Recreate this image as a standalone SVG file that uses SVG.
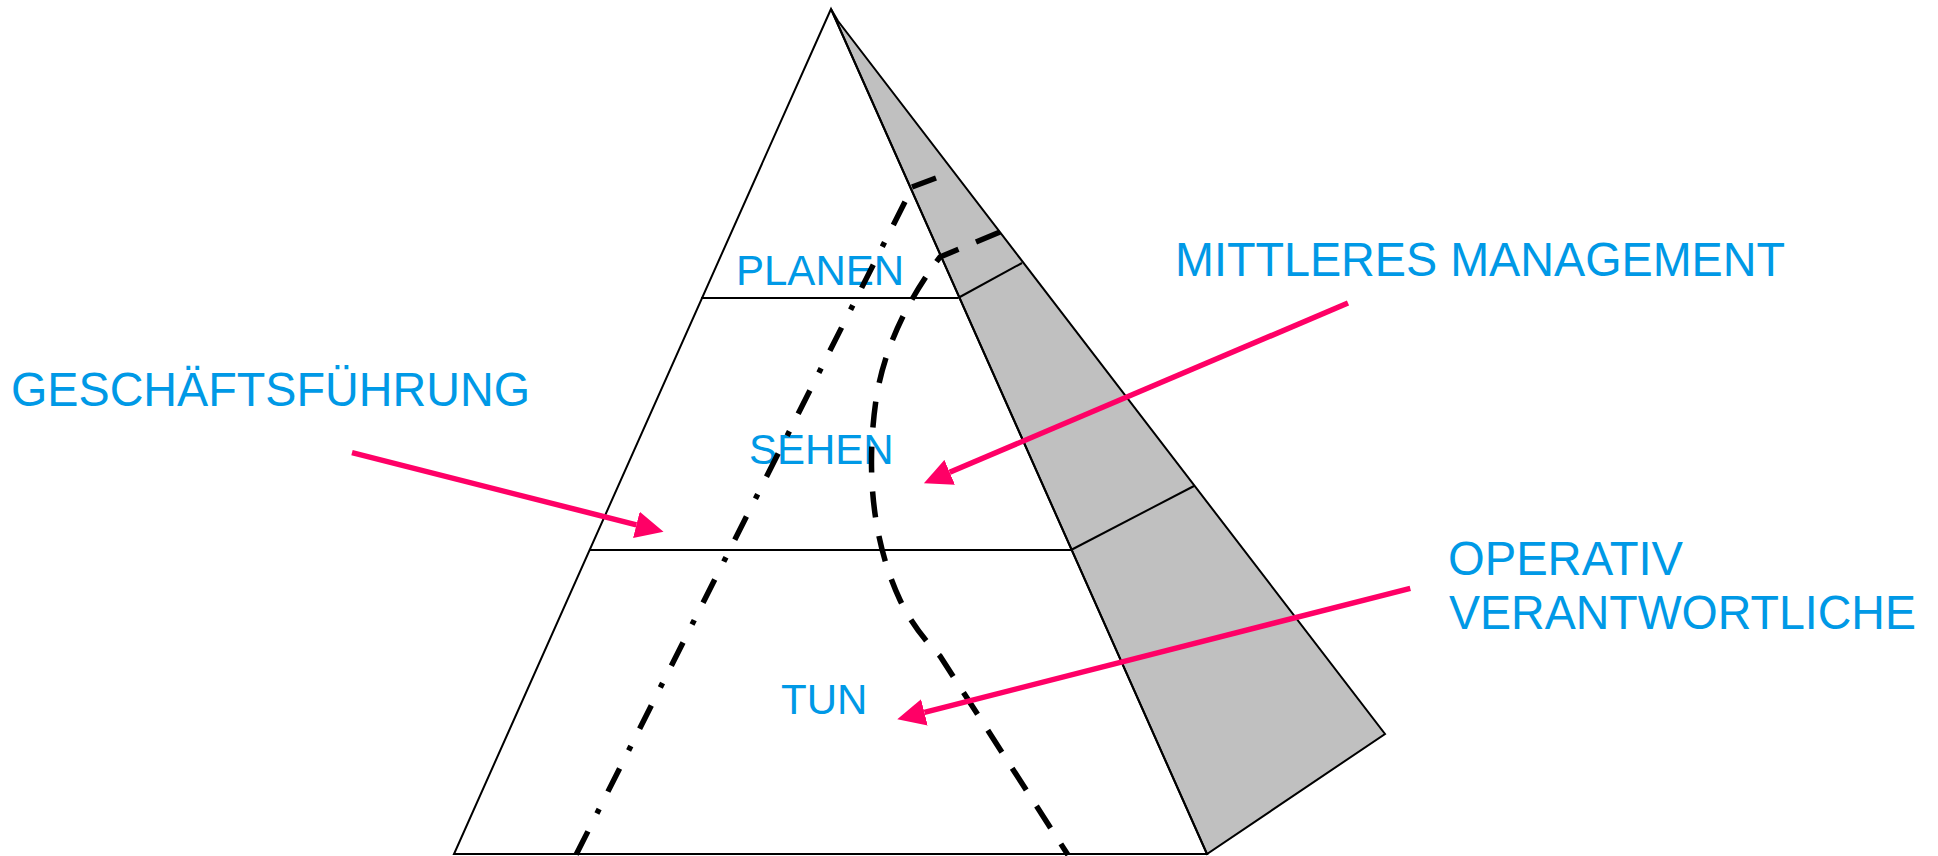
<svg xmlns="http://www.w3.org/2000/svg" width="1938" height="856" viewBox="0 0 1938 856">
<style>
.edge{fill:none;stroke:#000;stroke-width:2;stroke-linejoin:miter}
.back{fill:#C0C0C0;stroke:#000;stroke-width:2;stroke-linejoin:miter}
.lbl{font-family:"Liberation Sans",Arial,sans-serif;fill:#0099E6}
.mid{font-size:42px}
.big{font-size:48px}
.dashdot{fill:none;stroke:#000;stroke-width:5.5;stroke-dasharray:26 19.5 5 20}
.dashed{fill:none;stroke:#000;stroke-width:5.5;stroke-dasharray:26 19}
.solidk{fill:none;stroke:#000;stroke-width:5.5}
.arrow{fill:none;stroke:#FF0066;stroke-width:5.5;marker-end:url(#head)}
</style>
<defs>
<marker id="head" markerUnits="userSpaceOnUse" viewBox="0 0 28 27" markerWidth="28" markerHeight="27" refX="0" refY="13.5" orient="auto">
<path d="M0,0 L28,13.5 L0,27 Z" fill="#FF0066"/>
</marker>
</defs>
<rect width="1938" height="856" fill="#fff"/>
<g id="pyramid">
<polygon class="back" points="831,9 838,21 1385,734 1207,854"/>
<polygon class="edge" points="831,9 454,854 1207,854"/>
<line class="edge" x1="958" y1="298" x2="1022" y2="263"/>
<line class="edge" x1="1071" y1="550" x2="1194" y2="486"/>
</g>
<g id="layer-planen">
<line class="edge" x1="701" y1="298" x2="958" y2="298"/>
<text class="lbl mid" x="736" y="285">PLANEN</text>
</g>
<g id="layer-sehen">
<line class="edge" x1="590" y1="550" x2="1071" y2="550"/>
<text class="lbl mid" x="749" y="464">SEHEN</text>
</g>
<g id="layer-tun">
<text class="lbl mid" x="781" y="714">TUN</text>
</g>
<g id="boundaries">
<path class="solidk" d="M936,178 L912,187"/>
<path class="dashdot" d="M905,201.7 L576,855"/>
<path class="dashed" d="M1000,232 L940,257 C915,290 885,340 876,400 C866,470 872,540 900,600 C912,625 925,640 940,656 L1068,855"/>
</g>
<g id="label-geschaeftsfuehrung">
<text class="lbl big" x="11" y="406" textLength="519" lengthAdjust="spacingAndGlyphs">GESCHÄFTSFÜHRUNG</text>
</g>
<g id="label-mittleres-management">
<text class="lbl big" x="1175" y="276" textLength="610" lengthAdjust="spacingAndGlyphs">MITTLERES MANAGEMENT</text>
</g>
<g id="label-operativ">
<text class="lbl big" x="1448" y="575" textLength="235" lengthAdjust="spacingAndGlyphs">OPERATIV</text>
<text class="lbl big" x="1449" y="629" textLength="467" lengthAdjust="spacingAndGlyphs">VERANTWORTLICHE</text>
</g>
<g id="connectors">
<line class="arrow" x1="352" y1="452.7" x2="636.4" y2="524.8"/>
<line class="arrow" x1="1348" y1="303" x2="949.7" y2="472.3"/>
<line class="arrow" x1="1410.3" y1="588.4" x2="924.4" y2="712.4"/>
</g>
</svg>
